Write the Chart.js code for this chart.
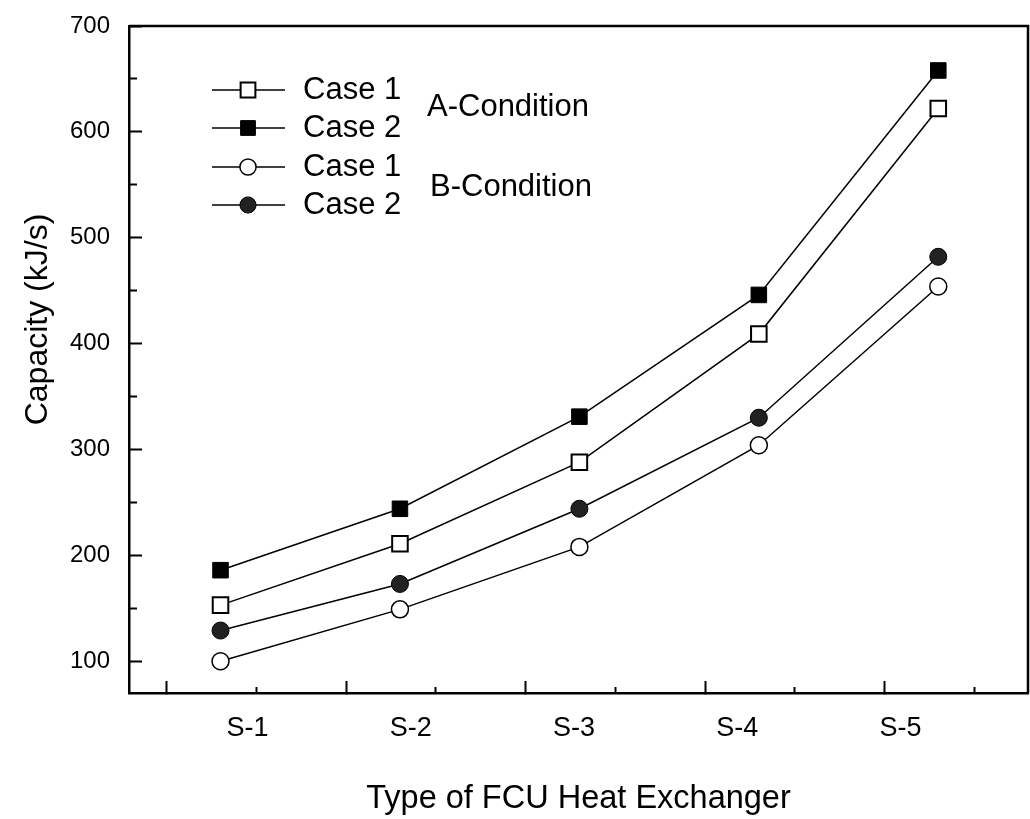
<!DOCTYPE html>
<html>
<head>
<meta charset="utf-8">
<title>Capacity by FCU heat exchanger type</title>
<script src="https://cdn.jsdelivr.net/npm/chart.js@4.4.1/dist/chart.umd.min.js"></script>
<style>
  html, body { margin: 0; padding: 0; background: #fff; overflow: hidden; }
  #wrap { width: 1030px; height: 819px; }
</style>
</head>
<body>
<div id="wrap"><canvas id="chart-capacity" width="1030" height="819"></canvas></div>
<script>
// ---- values (kJ/s) ----
const exchangerTypes = ['S-1', 'S-2', 'S-3', 'S-4', 'S-5'];
const aCase1 = [153, 211, 288, 409, 622];   // A-Condition, Case 1 (open square)
const aCase2 = [186, 244, 331, 446, 658];   // A-Condition, Case 2 (filled square)
const bCase1 = [100, 149, 208, 304, 454];   // B-Condition, Case 1 (open circle)
const bCase2 = [129, 173, 244, 330, 482];   // B-Condition, Case 2 (filled circle)
const yTicks = [100, 200, 300, 400, 500, 600, 700];
const yMinorTicks = [150, 250, 350, 450, 550, 650];

const FONT = '"Liberation Sans", Arial, Helvetica, sans-serif';
const INK = '#000';

const toPoints = arr => arr.map((v, i) => ({ x: i + 1, y: v }));

function makeSeries(label, values, style, fillColor, radius, borderWidth) {
    return {
        label,
        data: toPoints(values),
        borderColor: INK,
        borderWidth: 1.5,
        tension: 0,
        pointStyle: style,
        pointRadius: radius,
        pointHoverRadius: radius,
        pointBackgroundColor: fillColor,
        pointBorderColor: INK,
        pointBorderWidth: borderWidth,
        fill: false
    };
}

// keep the plot box exactly where the layout padding puts it
function noOverhang(scale) {
    scale.paddingTop = 0;
    scale.paddingBottom = 0;
    scale.paddingLeft = 0;
    scale.paddingRight = 0;
}

// frame: top and right edges of the plot box
const framePlugin = {
    id: 'frame',
    afterDraw(chart) {
        const { ctx, chartArea: a } = chart;
        ctx.save();
        ctx.strokeStyle = INK;
        ctx.lineWidth = 2.5;
        ctx.beginPath();
        ctx.moveTo(a.left, a.top);
        ctx.lineTo(a.right, a.top);
        ctx.lineTo(a.right, a.bottom);
        ctx.stroke();
        ctx.restore();
    }
};

// legend in the top-left of the plot, with the two condition captions
const legendPlugin = {
    id: 'figLegend',
    afterDraw(chart) {
        const ctx = chart.ctx;
        const rows = [90, 128, 167, 205];
        ctx.save();
        ctx.font = `31px ${FONT}`;
        ctx.textBaseline = 'middle';
        ctx.textAlign = 'left';
        chart.data.datasets.forEach((ds, i) => {
            const y = rows[i];
            ctx.strokeStyle = INK;
            ctx.lineWidth = 1.5;
            ctx.beginPath();
            ctx.moveTo(212, y);
            ctx.lineTo(285, y);
            ctx.stroke();

            ctx.fillStyle = ds.pointBackgroundColor;
            ctx.strokeStyle = INK;
            ctx.lineWidth = ds.pointBorderWidth;
            Chart.helpers.drawPoint(ctx, {
                pointStyle: ds.pointStyle,
                radius: ds.pointRadius * 0.95,
                rotation: 0,
                borderWidth: ds.pointBorderWidth
            }, 248, y);

            ctx.fillStyle = INK;
            ctx.fillText(ds.label, 303, y);
        });
        ctx.fillText('A-Condition', 427, 107);
        ctx.fillText('B-Condition', 430, 187);
        ctx.restore();
    }
};

new Chart(document.getElementById('chart-capacity'), {
    type: 'line',
    data: {
        datasets: [
            makeSeries('Case 1', aCase1, 'rect', '#fff', 11, 2),
            makeSeries('Case 2', aCase2, 'rect', INK, 11, 1),
            makeSeries('Case 1', bCase1, 'circle', '#fff', 8.5, 1.5),
            makeSeries('Case 2', bCase2, 'circle', '#222', 8.5, 1)
        ]
    },
    options: {
        responsive: false,
        animation: false,
        events: [],
        layout: { autoPadding: false, padding: { top: 26, right: 2, left: 0, bottom: 0 } },
        plugins: { legend: { display: false }, tooltip: { enabled: false } },
        scales: {
            x: {
                type: 'linear', min: 0.49, max: 5.5,
                afterBuildTicks(scale) {
                    const marks = exchangerTypes.map((_, i) => ({ value: i + 0.7, name: '' }));
                    const names = exchangerTypes.map((t, i) => ({ value: 1.15 + i * 0.91, name: t }));
                    scale.ticks = marks.concat(names).sort((a, b) => a.value - b.value);
                },
                afterFit(scale) { scale.height = 126; noOverhang(scale); },
                border: { display: true, color: INK, width: 2.5 },
                grid: {
                    drawOnChartArea: false, tickLength: -12, tickWidth: 2,
                    tickColor: c => (c.tick && c.tick.name) ? 'rgba(0,0,0,0)' : INK
                },
                ticks: {
                    autoSkip: false, maxRotation: 0, minRotation: 0, padding: 31, color: INK,
                    font: { family: FONT, size: 27 },
                    callback: (v, i, ticks) => ticks[i].name
                },
                title: {
                    display: true, text: 'Type of FCU Heat Exchanger', color: INK,
                    font: { family: FONT, size: 32.5 }, padding: { top: 0, bottom: 0 }
                }
            },
            xm: {
                type: 'linear', axis: 'x', min: 0.49, max: 5.5, position: { y: 70 },
                afterBuildTicks(scale) {
                    scale.ticks = exchangerTypes.map((_, i) => ({ value: i + 1.2 }));
                },
                afterFit(scale) { scale.height = 0; noOverhang(scale); },
                border: { display: false },
                grid: { drawOnChartArea: false, tickLength: -6, tickWidth: 2, tickColor: INK },
                ticks: { display: false }
            },
            y: {
                type: 'linear', min: 70, max: 700,
                afterBuildTicks(scale) { scale.ticks = yTicks.map(v => ({ value: v })); },
                afterFit(scale) { scale.width = 129; noOverhang(scale); },
                border: { display: true, color: INK, width: 2.5 },
                grid: { drawOnChartArea: false, tickLength: -13, tickWidth: 2, tickColor: INK },
                ticks: { padding: 32, color: INK, font: { family: FONT, size: 24 }, callback: v => v },
                title: {
                    display: true, text: '\u2002\u2002\u2002\u2002\u2002Capacity (kJ/s)', color: INK,
                    font: { family: FONT, size: 32 }, padding: { top: 19, bottom: 0 }
                }
            },
            ym: {
                type: 'linear', axis: 'y', min: 70, max: 700, position: { x: 0.49 },
                afterBuildTicks(scale) { scale.ticks = yMinorTicks.map(v => ({ value: v })); },
                afterFit(scale) { scale.width = 0; noOverhang(scale); },
                border: { display: false },
                grid: { drawOnChartArea: false, tickLength: -8, tickWidth: 2, tickColor: INK },
                ticks: { display: false }
            }
        }
    },
    plugins: [framePlugin, legendPlugin]
});
</script>
</body>
</html>
